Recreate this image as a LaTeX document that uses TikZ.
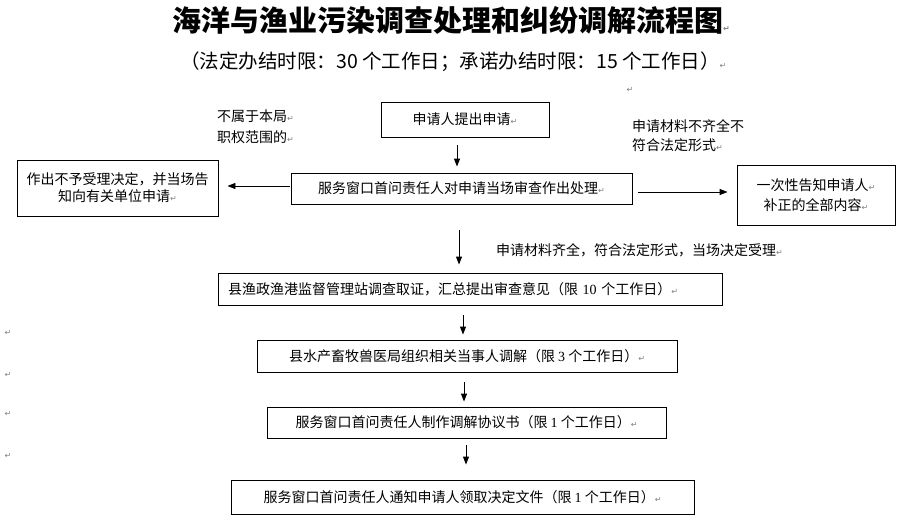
\documentclass[tikz,border=0pt]{standalone}
\usepackage{fontspec}
\setmainfont{Noto Sans CJK SC}
\newfontfamily\dejavu{DejaVu Sans}
\newfontfamily\numfont{Liberation Serif}
\usetikzlibrary{arrows.meta}
\newcommand\retmk{{\fontsize{8}{8}\selectfont\dejavu\textcolor{gray}{↵}}}
\newcommand\nm[1]{{\numfont #1}}
\begin{document}
\begin{tikzpicture}[x=1pt,y=-1pt,
  box/.style={draw,line width=0.9pt,inner sep=0pt,font=\fontsize{14}{18}\selectfont},
  lbl/.style={inner sep=0pt,anchor=west,align=left},
  arr/.style={line width=0.9pt,-{Triangle[length=8pt,width=6pt]}}]
\useasboundingbox (0,0) rectangle (915,524);
% title and subtitle
\node[anchor=west,inner sep=0pt,font=\fontsize{29}{29}\selectfont\bfseries] (title) at (172,20) {海洋与渔业污染调查处理和纠纷调解流程图\retmk};
\node[anchor=west,inner sep=0pt,font=\fontsize{19.5}{20}\selectfont] (sub) at (180,62) {（法定办结时限：30 个工作日；承诺办结时限：15 个工作日）\retmk};
\node[inner sep=0pt] (ret0) at (630,90) {\retmk};
% boxes
\node[box,minimum width=168pt,minimum height=35pt] (b1) at (465,119.5) {申请人提出申请\retmk};
\node[box,minimum width=341pt,minimum height=31pt] (b2) at (461.5,188.5) {服务窗口首问责任人对申请当场审查作出处理\retmk};
\node[box,minimum width=201pt,minimum height=56pt,align=center,font=\fontsize{14}{17}\selectfont] (rej) at (117.5,188) {作出不予受理决定，并当场告\\知向有关单位申请\retmk};
\node[box,minimum width=158pt,minimum height=60pt,align=center,font=\fontsize{14}{20}\selectfont] (inf) at (816,195) {一次性告知申请人\retmk\\补正的全部内容\retmk};
\node[box,minimum width=504pt,minimum height=32pt,text width=484pt,align=left] (b3) at (470,289) {县渔政渔港监督管理站调查取证，汇总提出审查意见（限 \nm{10} 个工作日）\retmk};
\node[box,minimum width=420pt,minimum height=32pt] (b4) at (467,356) {县水产畜牧兽医局组织相关当事人调解（限 \nm{3} 个工作日）\retmk};
\node[box,minimum width=399pt,minimum height=31pt] (b5) at (466.5,422.5) {服务窗口首问责任人制作调解协议书（限 \nm{1} 个工作日）\retmk};
\node[box,minimum width=463pt,minimum height=34pt] (b6) at (462.5,497) {服务窗口首问责任人通知申请人领取决定文件（限 \nm{1} 个工作日）\retmk};
% labels
\node[lbl,font=\fontsize{14}{21}\selectfont] (t1) at (217,126.5) {不属于本局\retmk\\职权范围的\retmk};
\node[lbl,font=\fontsize{14}{19}\selectfont] (t2) at (632,136) {申请材料不齐全不\\符合法定形式\retmk};
\node[lbl,font=\fontsize{14}{18}\selectfont] (t3) at (496,250) {申请材料齐全，符合法定形式，当场决定受理\retmk};
% stray paragraph marks
\node[inner sep=0pt] (r1) at (8,333) {\retmk};
\node[inner sep=0pt] (r2) at (8,375) {\retmk};
\node[inner sep=0pt] (r3) at (8,414) {\retmk};
\node[inner sep=0pt] (r4) at (8,456) {\retmk};
% arrows
\draw[arr,shorten <=8pt,shorten >=6pt] ([xshift=-8pt]b1.south) -- ([xshift=-4.5pt]b2.north);
\draw[arr,shorten <=1pt,shorten >=9pt] ([yshift=2.5pt]b2.west) -- ([yshift=2pt]rej.east);
\draw[arr,shorten <=6pt,shorten >=9pt] ([yshift=-3.5pt]b2.east) -- ([yshift=3pt]inf.west);
\draw[arr,shorten <=26pt,shorten >=8pt] ([xshift=-2.5pt]b2.south) -- ([xshift=-11pt]b3.north);
\draw[arr,shorten <=10pt,shorten >=5pt] ([xshift=-7pt]b3.south) -- ([xshift=-4pt]b4.north);
\draw[arr,shorten <=10pt,shorten >=5pt] ([xshift=-3pt]b4.south) -- ([xshift=-2.5pt]b5.north);
\draw[arr,shorten <=7pt,shorten >=15pt] ([xshift=-0.5pt]b5.south) -- ([xshift=3.5pt]b6.north);
\end{tikzpicture}
\end{document}
